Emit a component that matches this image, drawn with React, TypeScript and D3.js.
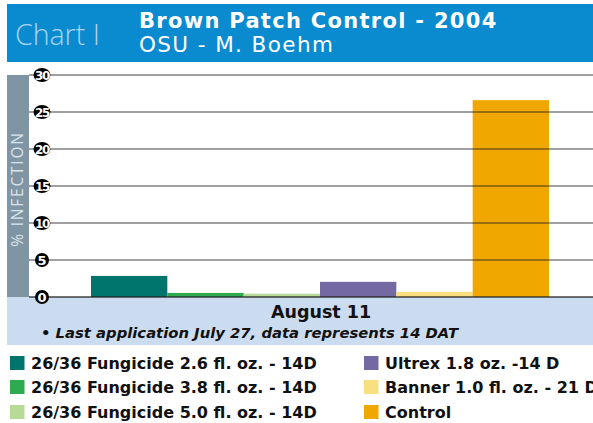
import React from 'react';
import * as d3 from 'd3';

const categories = [
  '26/36 Fungicide 2.6 fl. oz. - 14D',
  '26/36 Fungicide 3.8 fl. oz. - 14D',
  '26/36 Fungicide 5.0 fl. oz. - 14D',
  'Ultrex 1.8 oz. -14 D',
  'Banner 1.0 fl. oz. - 21 D',
  'Control',
];
const values = [2.85, 0.55, 0.45, 2.05, 0.7, 26.6];
const colors = ['#00756e', '#2eaa4f', '#b5db96', '#7469a3', '#fadf80', '#f0a800'];
const yTicks = [0, 5, 10, 15, 20, 25, 30];

const W = 593;
const H = 423;
const FONT = "'Open Sans', 'DejaVu Sans', sans-serif";
const WIDE = "'DejaVu Sans', sans-serif";

export default function App() {
  const y = d3.scaleLinear().domain([0, 30]).range([297, 75]);
  const x = d3.scaleBand().domain(categories).range([91, 549]).padding(0);

  // legend: two columns of three
  const legendCol = [10, 364];
  const legendRow = [363, 387, 412];

  return (
    <svg width={W} height={H} style={{ position: 'absolute', left: 0, top: 0, background: '#fff' }}>
      {/* header */}
      <rect x={7} y={4} width={W - 7} height={58} fill="#0a8bd0" />
      <text x={15} y={45} fill="#a8d4ef" fontFamily={FONT} fontSize={28.5} fontWeight={300}>Chart I</text>
      <text x={139} y={28} fill="#fff" fontFamily={WIDE} fontSize={21} fontWeight={700} letterSpacing={1.3}>Brown Patch Control - 2004</text>
      <text x={139} y={52} fill="#fff" fontFamily={WIDE} fontSize={21.5} fontWeight={400} letterSpacing={1.4}>OSU - M. Boehm</text>

      {/* y label band */}
      <rect x={7} y={75} width={22} height={222} fill="#7f95a3" />
      <text transform="translate(23,189) rotate(-90)" textAnchor="middle" fill="#dbe4ea"
        fontFamily={FONT} fontSize={15.5} fontWeight={400} letterSpacing={1.8}>% INFECTION</text>

      {/* lower band */}
      <rect x={7} y={297} width={W - 7} height={48} fill="#ccdcf0" />
      <text x={321} y={318} textAnchor="middle" fill="#111" fontFamily={WIDE} fontSize={17.5} fontWeight={700}>August 11</text>
      <text x={41} y={338} fill="#111" fontFamily={WIDE} fontSize={14.8} fontWeight={700} fontStyle="italic">• Last application July 27, data represents 14 DAT</text>

      {/* bars */}
      {categories.map((c, i) => (
        <rect key={c} x={x(c)!} y={y(values[i])} width={x.bandwidth()} height={y(0) - y(values[i])} fill={colors[i]} />
      ))}

      {/* grid lines over bars */}
      {yTicks.map(t => (
        <line key={t} x1={29} x2={W} y1={y(t)} y2={y(t)} stroke="#222" strokeWidth={t === 0 ? 1.6 : 1.2} strokeOpacity={0.85} />
      ))}

      {/* tick badges */}
      {yTicks.map(t => (
        <g key={'b' + t} transform={`translate(42,${y(t)})`}>
          <ellipse rx={t >= 10 ? 8.5 : 7} ry={7} fill="#000" />
          <text y={4.6} textAnchor="middle" fill="#fff" fontFamily={WIDE} fontSize={t >= 10 ? 12 : 13}
            fontWeight={700} letterSpacing={t >= 10 ? -1.3 : 0}>{t}</text>
        </g>
      ))}

      {/* legend */}
      {categories.map((c, i) => {
        const col = Math.floor(i / 3);
        const row = i % 3;
        const lx = legendCol[col];
        const ly = legendRow[row];
        return (
          <g key={'l' + c}>
            <rect x={lx} y={ly - 7} width={14.5} height={14} fill={colors[i]} />
            <text x={lx + 21} y={ly + 6} fill="#111" fontFamily={WIDE} fontSize={16} fontWeight={700}>{c}</text>
          </g>
        );
      })}
    </svg>
  );
}
